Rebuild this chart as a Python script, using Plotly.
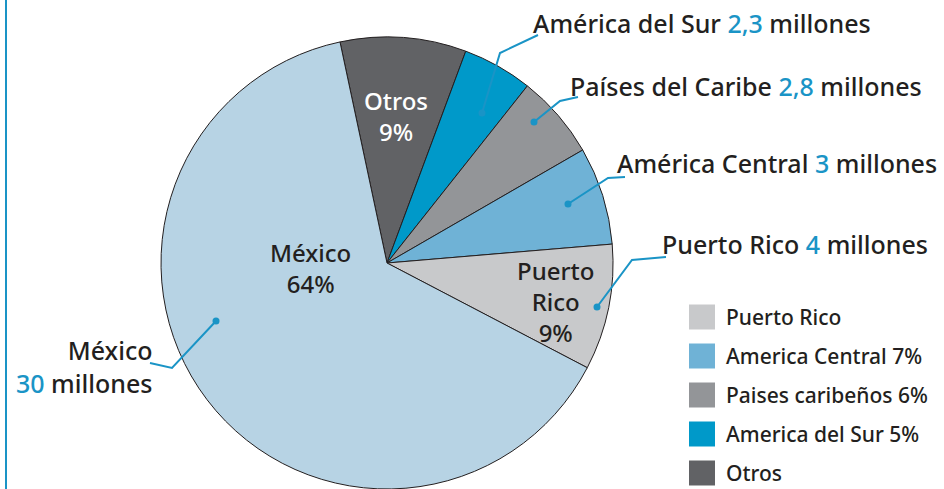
import plotly.graph_objects as go

# ---------------- data ----------------
regions = ["Otros", "América del Sur", "Países del Caribe", "América Central", "Puerto Rico", "México"]
shares = [9, 5, 6, 7, 9, 64]
colors = ["#616265", "#0099c9", "#939598", "#6fb2d6", "#c8c9cb", "#b7d3e4"]

callout_names = ["América del Sur", "Países del Caribe", "América Central", "Puerto Rico"]
callout_values = ["2,3", "2,8", "3", "4"]
mexico_value = "30"

legend_labels = ["Puerto Rico", "America Central 7%", "Paises caribeños 6%", "America del Sur 5%", "Otros"]
legend_colors = ["#c8c9cb", "#6fb2d6", "#939598", "#0099c9", "#616265"]

# ---------------- layout helpers ----------------
W, H = 944, 489
FONT = "Noto Sans"
DARK = "#231f20"
BLUE = "#1a94c6"


def px(x, y):
    return x / W, 1 - y / H


cx, cy, r = 387, 263, 226

fig = go.Figure()
fig.add_trace(go.Pie(
    labels=regions, values=shares, sort=False, direction="clockwise",
    rotation=-12, marker=dict(colors=colors, line=dict(color=DARK, width=1)),
    textinfo="none", showlegend=False, hoverinfo="label+percent",
    domain=dict(x=[(cx - r) / W, (cx + r) / W], y=[max(0, 1 - (cy + r) / H), 1 - (cy - r) / H]),
))

annotations = []
shapes = []


def add_text(x, y, text, size=25, color=DARK, xanchor="left", yanchor="middle", align="left"):
    xp, yp = px(x, y)
    annotations.append(dict(x=xp, y=yp, xref="paper", yref="paper", text=text, showarrow=False,
                            xanchor=xanchor, yanchor=yanchor, align=align,
                            font=dict(family=FONT, size=size, color=color, weight=500)))


# labels inside pie
add_text(310, 268, f"México<br>{shares[5]}%", size=24, xanchor="center", align="center")
add_text(396, 116, f"Otros<br>{shares[0]}%", size=24, color="white", xanchor="center", align="center")
add_text(555, 301, f"Puerto<br>Rico<br>{shares[4]}%", size=24, xanchor="center", align="center")

# callouts
callout_pos = [(531, 23), (568, 86), (615, 163), (660, 244)]
for (x, y), name, val in zip(callout_pos, callout_names, callout_values):
    add_text(x, y, f"{name} <span style='color:{BLUE}'>{val}</span> millones")
add_text(155, 366, f"México<br><span style='color:{BLUE}'>{mexico_value}</span> millones",
         xanchor="right", align="right")

# leader lines
leaders = [
    [(482, 113), (500, 53), (538, 35)],
    [(534, 122), (560, 101), (578, 97)],
    [(568, 204), (608, 178), (625, 177)],
    [(597, 307), (632, 260), (666, 257)],
    [(216, 321), (172, 368), (150, 363)],
]
for pts in leaders:
    path = "M " + " L ".join(f"{px(x, y)[0]:.5f},{px(x, y)[1]:.5f}" for x, y in pts)
    shapes.append(dict(type="path", xref="paper", yref="paper", path=path,
                       line=dict(color=BLUE, width=2)))
    dx, dy = pts[0]
    x0, y0 = px(dx - 3.5, dy + 3.5)
    x1, y1 = px(dx + 3.5, dy - 3.5)
    shapes.append(dict(type="circle", xref="paper", yref="paper", x0=x0, y0=y0, x1=x1, y1=y1,
                       fillcolor=BLUE, line=dict(width=0)))

# left rule
shapes.append(dict(type="line", xref="paper", yref="paper", x0=px(6, 0)[0], x1=px(6, 0)[0],
                   y0=0, y1=1, line=dict(color=BLUE, width=2)))

# legend
for i, (lab, col) in enumerate(zip(legend_labels, legend_colors)):
    yc = 317 + 39 * i
    x0, y0 = px(689, yc + 12.5)
    x1, y1 = px(715, yc - 12.5)
    shapes.append(dict(type="rect", xref="paper", yref="paper", x0=x0, y0=y0, x1=x1, y1=y1,
                       fillcolor=col, line=dict(width=0)))
    add_text(724, yc, lab, size=21)

fig.update_layout(
    width=W, height=H, margin=dict(l=0, r=0, t=0, b=0),
    paper_bgcolor="white", plot_bgcolor="white",
    annotations=annotations, shapes=shapes,
)

fig.write_html("out.html")
